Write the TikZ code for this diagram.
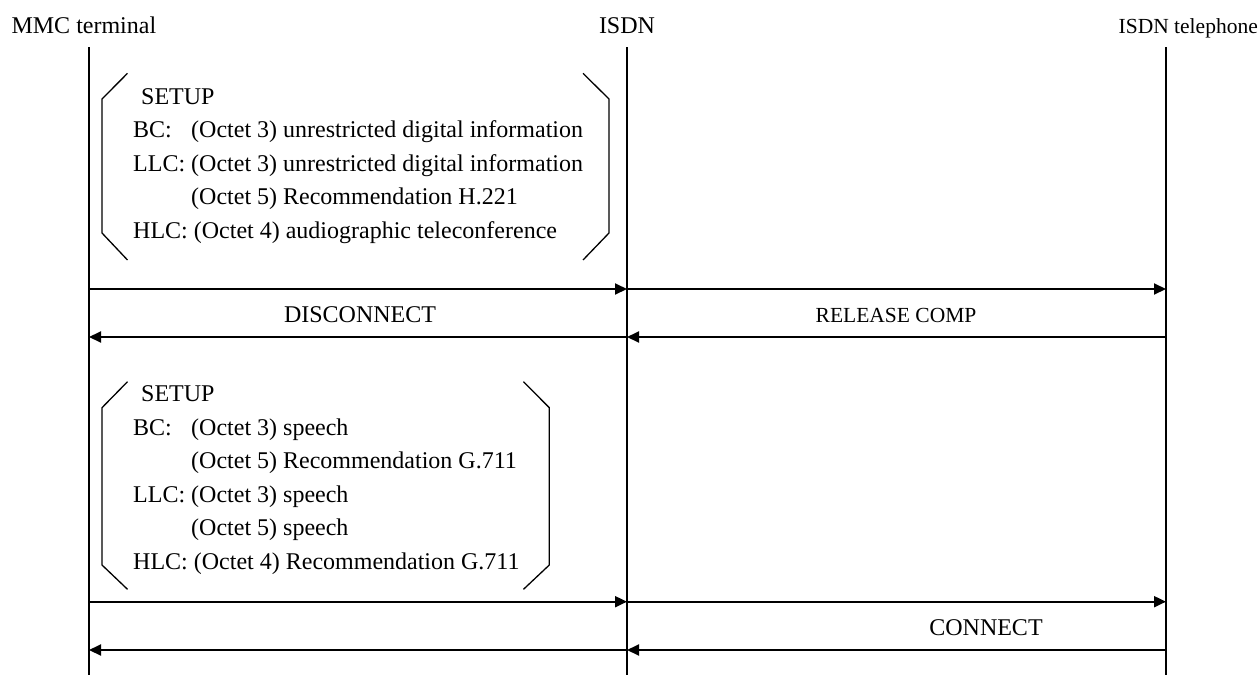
\documentclass[tikz,border=0pt]{standalone}
\usepackage{fontspec}
\setmainfont{Liberation Serif}
\usetikzlibrary{arrows.meta}
\newcommand\mylab[1]{\makebox[2.417em][l]{#1}}
\newcommand\myind{\hspace*{2.417em}}
\begin{document}
\begin{tikzpicture}[x=1pt,y=-1pt,
  every node/.style={font=\fontsize{24}{28}\selectfont, inner sep=0pt},
  small/.style={font=\fontsize{21.5}{26}\selectfont},
  txt/.style={anchor=base west},
  head/.style={anchor=base},
  life/.style={line width=2pt},
  msg/.style={line width=2pt, -{Triangle[length=12pt,width=11pt]}},
  brk/.style={line width=1.3pt, line join=miter}]
\useasboundingbox (0,0) rectangle (1259,675);

% headers
\node[head] (hA) at (83.9,33) {MMC terminal};
\node[head] (hB) at (627,33) {ISDN};
\node[anchor=base east, small] (hC) at (1258,33) {ISDN telephone};

% lifelines
\coordinate (Atop) at (89,47);   \coordinate (Abot) at (89,675);
\coordinate (Btop) at (627,47);  \coordinate (Bbot) at (627,675);
\coordinate (Ctop) at (1166,47); \coordinate (Cbot) at (1166,675);
\draw[life] (Atop) -- (Abot);
\draw[life] (Btop) -- (Bbot);
\draw[life] (Ctop) -- (Cbot);

% first SETUP block
\draw[brk] (127.5,73.3) -- (102,99) -- (102,233) -- (127.5,260);
\draw[brk] (583,73.3) -- (609,99) -- (609,233) -- (583,260);
\node[txt] (s1) at (141,104) {SETUP};
\node[txt] (s1a) at (133,137.5) {\mylab{BC:}(Octet 3) unrestricted digital information};
\node[txt] (s1b) at (133,171) {LLC: (Octet 3) unrestricted digital information};
\node[txt] (s1c) at (133,204.5) {\myind(Octet 5) Recommendation H.221};
\node[txt] (s1d) at (133,238) {HLC: (Octet 4) audiographic teleconference};

% messages 1
\coordinate (A1) at (89,289);  \coordinate (B1) at (627,289);  \coordinate (C1) at (1166,289);
\draw[msg] (A1) -- (B1);
\draw[msg] (B1) -- (C1);
\coordinate (A2) at (89,337);  \coordinate (B2) at (627,337);  \coordinate (C2) at (1166,337);
\draw[msg] (C2) -- (B2);
\draw[msg] (B2) -- (A2);
\node[head] (disc) at (360,322.7) {DISCONNECT};
\node[head, small] (rel) at (896,322.7) {RELEASE COMP};

% second SETUP block
\draw[brk] (127.5,381.7) -- (102,407.7) -- (102,565) -- (127.5,589.3);
\draw[brk] (523.5,381.7) -- (549.3,407.7) -- (549.3,565) -- (523.5,589.3);
\node[txt] (s2) at (141,401.7) {SETUP};
\node[txt] (s2a) at (133,435.2) {\mylab{BC:}(Octet 3) speech};
\node[txt] (s2b) at (133,468.7) {\myind(Octet 5) Recommendation G.711};
\node[txt] (s2c) at (133,502.2) {LLC: (Octet 3) speech};
\node[txt] (s2d) at (133,535.7) {\myind(Octet 5) speech};
\node[txt] (s2e) at (133,569.2) {HLC: (Octet 4) Recommendation G.711};

% messages 2
\coordinate (A3) at (89,601.7);  \coordinate (B3) at (627,601.7);  \coordinate (C3) at (1166,601.7);
\draw[msg] (A3) -- (B3);
\draw[msg] (B3) -- (C3);
\coordinate (A4) at (89,650);  \coordinate (B4) at (627,650);  \coordinate (C4) at (1166,650);
\draw[msg] (C4) -- (B4);
\draw[msg] (B4) -- (A4);
\node[head] (conn) at (986,635.7) {CONNECT};
\end{tikzpicture}
\end{document}
